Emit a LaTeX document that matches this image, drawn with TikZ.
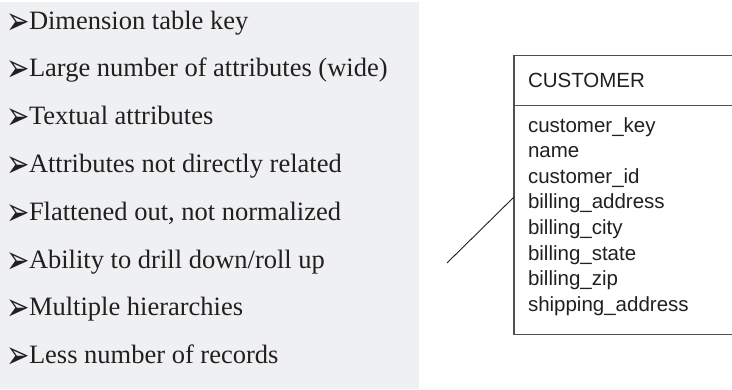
\documentclass[tikz,border=0pt]{standalone}
\usepackage{fontspec}
\setmainfont{Liberation Serif}
\setsansfont{Liberation Sans}
\newfontfamily\symfont{DejaVu Sans}
\definecolor{panelgray}{HTML}{EFF0F2}
\definecolor{inkdark}{HTML}{231F20}
\definecolor{boxline}{HTML}{505050}
\begin{document}
\begin{tikzpicture}[x=1pt, y=-1pt,
    point/.style={inner sep=0pt, outer sep=0pt, text=inkdark, font=\fontsize{26.5}{30}\selectfont},
    tip/.style={inner sep=0pt, outer sep=0pt, text=inkdark, font=\symfont\fontsize{28}{30}\selectfont},
    field/.style={inner sep=0pt, outer sep=0pt, text=inkdark, font=\sffamily\fontsize{20.5}{24}\selectfont},
    entity/.style={draw=boxline, line width=1.3pt, inner sep=0pt, outer sep=0pt, anchor=north west}]
    \useasboundingbox (0,0) rectangle (732,389);
    % left panel
    \fill[panelgray] (0,2) rectangle (419,389);
    \foreach \txt [count=\i] in {Dimension table key, Large number of attributes (wide),
        Textual attributes, Attributes not directly related, {Flattened out, not normalized},
        Ability to drill down/roll up, Multiple hierarchies, Less number of records} {
        \node[tip, anchor=base east] (b\i) at (29.5, {34+47.8*(\i-1)}) {\scalebox{1}[1.4]{➢}};
        \node[point, anchor=base west] (t\i) at (29, {29+47.8*(\i-1)}) {\txt};
    }
    % customer table
    \node[entity, minimum width=240pt, minimum height=279pt] (customer) at (514,55.7) {};
    \draw[boxline, line width=1.3pt] (customer.west |- 0,105.7) -- (customer.east |- 0,105.7);
    \node[field, anchor=base west] (title) at (528,87.3) {CUSTOMER};
    \foreach \fld [count=\i] in {customer\_key, name, customer\_id, billing\_address,
        billing\_city, billing\_state, billing\_zip, shipping\_address} {
        \node[field, anchor=base west] (f\i) at (528, {132+25.6*(\i-1)}) {\fld};
    }
    \coordinate (lineend) at (447,263);
    \draw[inkdark, line width=0.9pt] (lineend) -- (customer.west |- 0,197);
\end{tikzpicture}
\end{document}
